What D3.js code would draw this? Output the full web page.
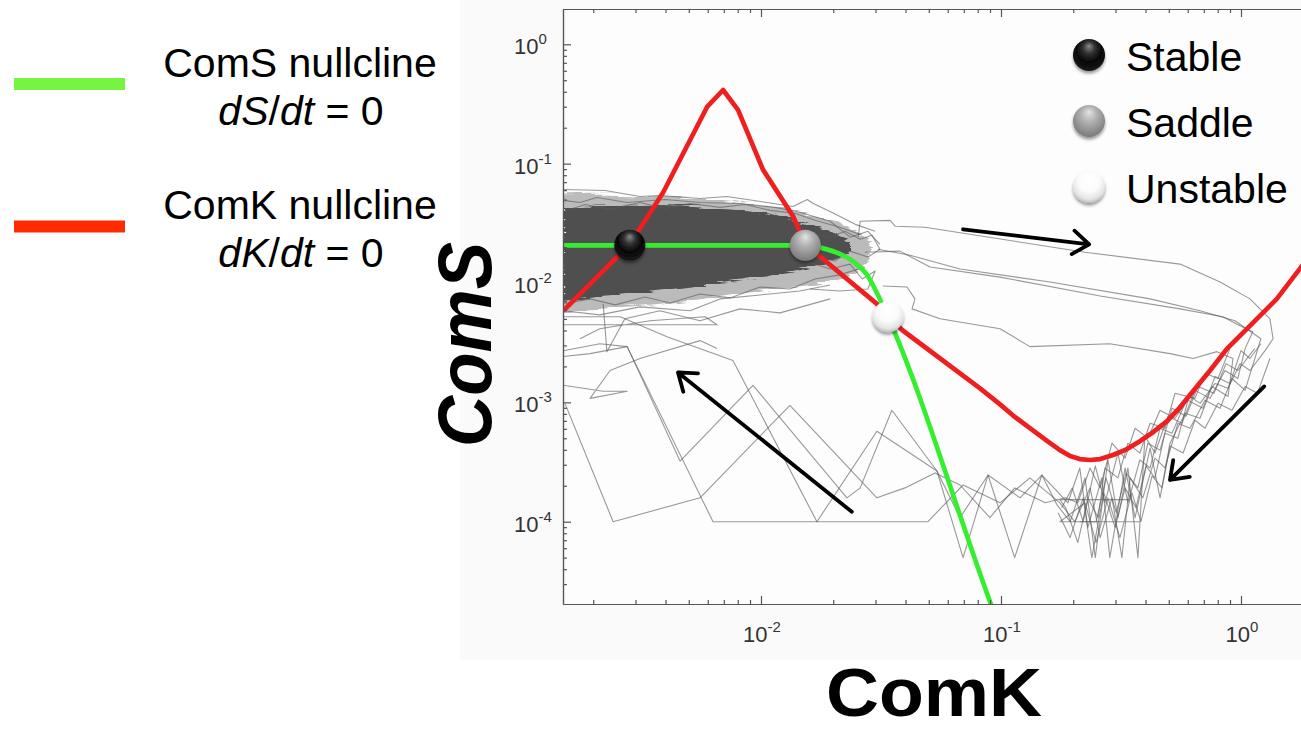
<!DOCTYPE html>
<html>
<head>
<meta charset="utf-8">
<script src="https://cdn.jsdelivr.net/npm/d3@7"></script>
<style>
  html, body { margin: 0; padding: 0; background: #fff; }
  svg { display: block; font-family: "Liberation Sans", Arial, Helvetica, sans-serif; }
</style>
</head>
<body>
<svg id="chart" width="1301" height="731"></svg>
<script>
// ---------------- data ----------------
// Axis ticks that carry a label, with their exponent text
const comKLabelTicks = [0.01, 0.1, 1];
const comKTickExponents = ["-2", "-1", "0"];
const comSLabelTicks = [1, 0.1, 0.01, 0.001, 0.0001];
const comSTickExponents = ["0", "-1", "-2", "-3", "-4"];

// Nullclines: [ComK, ComS]
const comSNullcline = [
  [1.50e-3, 0.0207], [1.32e-2, 0.0207], [1.53e-2, 0.0207], [1.80e-2, 0.0196],
  [2.13e-2, 0.0175], [2.47e-2, 0.0147], [2.79e-2, 0.0114], [3.07e-2, 7.94e-3],
  [3.38e-2, 5.21e-3], [8.99e-2, 2.15e-5], [9.91e-2, 1.26e-5]
];
const comKNullcline = [
  [1.50e-3, 5.85e-3], [2.84e-3, 0.0211], [3.91e-3, 0.0573], [5.96e-3, 0.2985],
  [6.95e-3, 0.414], [8.02e-3, 0.282], [1.019e-2, 0.0891], [1.36e-2, 0.0362],
  [1.53e-2, 0.0211], [3.04e-2, 6.68e-3], [3.38e-2, 5.21e-3], [3.91e-2, 3.98e-3],
  [8.18e-2, 1.31e-3], [9.91e-2, 9.62e-4], [0.112, 7.79e-4], [0.132, 6.07e-4],
  [0.156, 4.73e-4], [0.176, 3.98e-4], [0.194, 3.55e-4], [0.213, 3.35e-4],
  [0.235, 3.29e-4], [0.259, 3.35e-4], [0.293, 3.62e-4], [0.335, 4.06e-4],
  [0.379, 4.73e-4], [0.430, 5.62e-4], [0.492, 6.95e-4], [0.557, 9.09e-4],
  [0.631, 1.24e-3], [0.743, 1.85e-3], [0.875, 2.82e-3], [1.11, 4.55e-3],
  [1.41, 7.36e-3], [1.78, 0.0136], [2.35, 0.0271]
];

// Fixed points
const fixedPointNames = ["Stable", "Saddle", "Unstable"];
const fixedPointComK = [2.84e-3, 1.53e-2, 3.38e-2];
const fixedPointComS = [0.0207, 0.0207, 5.21e-3];

// Nullcline legend
const nullclineNames = ["ComS nullcline", "ComK nullcline"];
const nullclineVars = ["S", "K"];

// Dense cloud of trajectories around the stable state (band edges)
const cloudComK = [1.50e-3, 2.13e-3, 3.13e-3, 4.60e-3, 6.75e-3, 9.90e-3, 1.32e-2, 1.68e-2, 2.03e-2, 2.35e-2, 2.84e-2];
const cloudOuterHigh = [0.0541, 0.0552, 0.0541, 0.0521, 0.0501, 0.0455, 0.0414, 0.0369, 0.0329, 0.0293, 0.0230];
const cloudOuterLow = [5.85e-3, 6.07e-3, 6.43e-3, 6.95e-3, 7.64e-3, 8.58e-3, 9.26e-3, 9.62e-3, 0.0102, 0.0112, 0.0150];
const cloudCoreHigh = [0.0430, 0.0438, 0.0447, 0.0438, 0.0422, 0.0391, 0.0348, 0.0299, 0.0261, 0.0224];
const cloudCoreLow = [7.08e-3, 7.64e-3, 8.25e-3, 9.09e-3, 0.0100, 0.0110, 0.0124, 0.0139, 0.0156, 0.0178];

// Individual stochastic trajectories: [ComK, ComS]
const trajectoryA = [
  [2.54e-2, 0.0242], [2.59e-2, 0.0329], [3.45e-2, 0.0335], [3.62e-2, 0.0299], [4.82e-2, 0.0293],
  [0.224, 0.0181], [0.557, 0.0144], [0.818, 0.0102], [1.09, 7.36e-3], [1.32, 5.01e-3],
  [1.36, 3.41e-3], [1.26, 2.71e-3], [1.09, 1.85e-3], [0.991, 2.11e-3], [0.883, 1.31e-3],
  [0.780, 1.44e-3], [0.675, 9.81e-4], [0.613, 1.12e-3], [0.531, 7.36e-4], [0.460, 8.58e-4],
  [0.409, 5.01e-4], [0.362, 6.07e-4], [0.329, 3.41e-4], [0.290, 4.55e-4], [0.259, 1.92e-4],
  [0.235, 2.82e-4], [0.209, 1.44e-4], [0.185, 1.585e-4], [0.153, 1.44e-4], [0.114, 1.92e-4],
  [8.99e-2, 1.08e-4], [6.75e-2, 2.03e-4], [5.31e-2, 2.56e-4], [3.98e-2, 1.92e-4], [3.04e-2, 1.585e-4],
  [1.32e-2, 9.44e-4], [5.57e-3, 1.585e-4], [2.42e-3, 1e-4], [1.525e-3, 9.81e-4]
];
const trajectoryB = [
  [2.71e-2, 0.0181], [3.79e-2, 0.0185], [5.06e-2, 0.0136], [9.91e-2, 0.0112], [0.259, 7.79e-3],
  [0.557, 6.07e-3], [0.841, 5.21e-3], [0.991, 4.38e-3], [1.12, 3.91e-3], [1.04, 2.82e-3],
  [0.970, 1.585e-3], [0.858, 1.85e-3], [0.743, 1.08e-3], [0.643, 1.26e-3], [0.568, 6.68e-4],
  [0.496, 7.64e-4], [0.438, 3.76e-4], [0.398, 5.21e-4], [0.372, 5e-5], [0.338, 2.82e-4],
  [0.307, 1.08e-4], [0.279, 3.29e-4], [0.247, 5e-5], [0.224, 2.33e-4], [0.194, 1e-4],
  [0.171, 1.39e-4], [0.148, 2.46e-4], [0.114, 5e-5], [8.83e-2, 2.46e-4], [6.95e-2, 5e-5],
  [5.41e-2, 2.66e-4], [3.51e-2, 8.58e-4], [2.59e-2, 1.92e-4], [2.28e-2, 1.585e-4], [9.26e-3, 1.39e-3],
  [4.60e-3, 3.22e-4], [2.77e-3, 2.93e-3], [2.13e-3, 3.10e-3], [1.50e-3, 2.71e-3]
];
const trajectoryC = [
  [3.07e-2, 0.0192], [4.18e-2, 0.0171], [6.75e-2, 0.0131], [0.160, 0.0102], [0.418, 7.36e-3],
  [0.675, 5.85e-3], [0.944, 4.83e-3], [1.21, 3.41e-3], [1.04, 1.26e-3], [0.917, 1.585e-3],
  [0.818, 8.91e-4], [0.708, 1.04e-3], [0.613, 6.07e-4], [0.546, 6.68e-4], [0.482, 2.82e-4],
  [0.438, 3.41e-4], [0.390, 1.585e-4], [0.345, 2.33e-4], [0.319, 5e-5], [0.290, 1.585e-4],
  [0.259, 7.36e-5], [0.235, 1.92e-4], [0.203, 1e-4], [0.176, 1.44e-4], [0.132, 2.33e-4],
  [9.91e-2, 1.44e-4], [6.95e-2, 2.03e-4], [4.96e-2, 1e-4], [6.31e-3, 1e-4], [2.77e-3, 2.93e-3],
  [1.94e-3, 2.56e-3], [1.50e-3, 2.42e-3]
];
const trajectoryD = [
  [3.22e-2, 9.44e-3], [4.06e-2, 9.26e-3], [4.38e-2, 7.36e-3], [4.26e-2, 6.07e-3], [5.57e-2, 5.01e-3],
  [9.91e-2, 4.14e-3], [0.132, 2.93e-3], [0.284, 3.10e-3], [0.506, 2.56e-3], [0.631, 2.33e-3],
  [0.794, 2.66e-3], [0.926, 2.33e-3], [0.883, 1.12e-3], [0.758, 1.36e-3], [0.675, 7.36e-4],
  [0.585, 8.10e-4], [0.506, 4.55e-4], [0.460, 1.585e-4], [0.418, 4.14e-4], [0.362, 1.08e-4],
  [0.329, 2.82e-4], [0.284, 5e-5], [0.263, 2.33e-4], [0.230, 8.91e-5], [0.213, 2.82e-4],
  [0.190, 1.44e-4], [0.148, 2.46e-4], [0.120, 1.585e-4], [8.83e-2, 2.46e-4], [6.75e-2, 1.08e-4],
  [5.41e-2, 2.66e-4], [3.04e-2, 5.73e-4], [1.71e-2, 1e-4], [7.64e-3, 2.24e-3], [4.06e-3, 3.55e-3],
  [2.59e-3, 5.21e-3], [1.50e-3, 5.21e-3]
];
const trajectoryE = [
  [0.899, 2.82e-3], [0.802, 1.585e-3], [0.708, 1.75e-3], [0.643, 1.08e-3], [0.531, 1.19e-3],
  [0.482, 6.07e-4], [0.418, 6.68e-4], [0.379, 3.76e-4], [0.338, 4.55e-4], [0.307, 2.33e-4],
  [0.271, 2.82e-4], [0.254, 1.08e-4], [0.230, 1.585e-4], [0.209, 6.68e-5], [0.186, 1.31e-4],
  [0.176, 1.53e-4], [0.345, 1.53e-4]
];
const trajectoryF = [
  [1.32, 2.33e-3], [1.17, 1.19e-3], [1.04, 1.36e-3], [0.917, 8.58e-4], [0.802, 9.81e-4],
  [0.708, 6.07e-4], [0.643, 7.08e-4], [0.574, 3.76e-4], [0.506, 4.30e-4], [0.469, 1.92e-4],
  [0.426, 2.42e-4], [0.383, 1e-4], [0.351, 1.75e-4], [0.313, 7.36e-5], [0.279, 1.585e-4],
  [0.249, 6.68e-5], [0.224, 1.44e-4], [0.176, 1e-4], [0.379, 1e-4]
];
const trajectoryG = [
  [0.585, 9.81e-4], [0.516, 5.52e-4], [0.460, 6.07e-4], [0.418, 2.82e-4], [0.379, 3.29e-4],
  [0.338, 1.44e-4], [0.307, 3.76e-4], [0.271, 1.44e-4], [0.247, 2.93e-4], [0.220, 1e-4],
  [0.198, 1.92e-4], [0.179, 1.31e-4]
];
const trajectoryH = [
  [1.21, 3.10e-3], [1.09, 2.33e-3], [1.00, 2.71e-3], [0.899, 1.44e-3], [0.780, 1.65e-3],
  [0.694, 8.91e-4], [0.601, 1.04e-3], [0.546, 5.01e-4], [0.482, 5.52e-4], [0.438, 2.33e-4],
  [0.402, 2.93e-4], [0.365, 1.31e-4], [0.329, 1.92e-4], [0.299, 8.91e-5], [0.268, 1.75e-4],
  [0.239, 5e-5], [0.220, 1.585e-4], [0.194, 7.36e-5], [0.173, 1.19e-4]
];
const trajectoryI = [
  [1.14, 2.82e-3], [0.970, 1.85e-3], [0.866, 2.11e-3], [0.772, 1.19e-3], [0.662, 1.36e-3],
  [0.590, 7.64e-4], [0.516, 8.91e-4], [0.460, 3.98e-4], [0.409, 4.55e-4], [0.372, 1.92e-4],
  [0.332, 2.56e-4], [0.302, 1.19e-4], [0.274, 2.33e-4], [0.249, 1e-4], [0.213, 1e-4]
];
const fringe1 = [
  [1.50e-3, 0.0607], [2.24e-3, 0.0596], [3.13e-3, 0.0531], [3.79e-3, 0.0541], [5.57e-3, 0.0511],
  [7.21e-3, 0.0531], [1.059e-2, 0.0473], [1.36e-2, 0.0438], [1.56e-2, 0.0501], [1.65e-2, 0.0464],
  [1.94e-2, 0.0398], [2.47e-2, 0.0310], [2.99e-2, 0.0271]
];
const fringe2 = [
  [1.50e-3, 0.0492], [1.76e-3, 0.0473], [2.07e-3, 0.0521], [2.77e-3, 0.0473], [3.98e-3, 0.0501],
  [5.57e-3, 0.0473], [8.18e-3, 0.0464], [1.144e-2, 0.0430], [1.45e-2, 0.0391], [1.94e-2, 0.0329],
  [2.35e-2, 0.0242], [2.79e-2, 0.0271], [3.13e-2, 0.0211]
];
const fringe3 = [
  [1.45e-2, 0.0158], [1.94e-2, 0.0131], [2.35e-2, 0.0144], [2.64e-2, 0.0108], [2.99e-2, 0.0126],
  [2.79e-2, 8.91e-3], [2.13e-2, 8.58e-3], [1.60e-2, 8.91e-3]
];
const fringe4 = [
  [1.50e-3, 5.85e-3], [2.13e-3, 5.41e-3], [3.13e-3, 6.31e-3], [5.06e-3, 5.85e-3], [6.75e-3, 7.36e-3],
  [9.90e-3, 7.94e-3], [1.45e-2, 8.58e-3], [1.94e-2, 9.62e-3]
];
const fringe5 = [
  [1.50e-3, 4.47e-3], [3.13e-3, 4.47e-3], [6.56e-3, 4.47e-3], [5.85e-3, 5.21e-3], [3.45e-3, 4.83e-3],
  [2.13e-3, 4.14e-3], [1.76e-3, 3.41e-3]
];
const fringe6 = [
  [1.50e-3, 1.39e-3], [2.20e-3, 1.24e-3], [2.77e-3, 1.24e-3], [1.94e-3, 1.08e-3], [2.35e-3, 1.85e-3],
  [3.13e-3, 2.33e-3], [5.57e-3, 3.29e-3], [6.56e-3, 2.82e-3]
];
const fringe7 = [
  [2.20e-3, 6.68e-3], [2.28e-3, 2.66e-3], [2.71e-3, 5.01e-3], [3.79e-3, 5.85e-3], [5.57e-3, 4.83e-3],
  [8.18e-3, 6.07e-3], [1.20e-2, 5.62e-3], [1.94e-2, 7.36e-3]
];
const fringe8 = [
  [1.50e-3, 0.0398], [1.85e-3, 0.0455], [2.35e-3, 0.0414], [3.13e-3, 0.0473], [3.98e-3, 0.0422],
  [5.06e-3, 0.0464], [6.75e-3, 0.0430], [8.58e-3, 0.0455], [1.09e-2, 0.0406], [1.39e-2, 0.0383],
  [1.68e-2, 0.0335], [2.13e-2, 0.0293], [2.64e-2, 0.0251]
];
const fringe9 = [
  [1.50e-3, 6.68e-3], [1.94e-3, 7.36e-3], [2.47e-3, 6.56e-3], [3.29e-3, 7.64e-3], [4.18e-3, 6.81e-3],
  [5.57e-3, 8.10e-3], [7.43e-3, 7.50e-3], [9.90e-3, 9.26e-3], [1.32e-2, 8.91e-3], [1.68e-2, 0.0108],
  [2.13e-2, 0.0117], [2.71e-2, 0.0136]
];
const fringe10 = [
  [1.45e-2, 0.0271], [1.94e-2, 0.0242], [2.24e-2, 0.0271], [2.59e-2, 0.0233], [2.90e-2, 0.0251],
  [3.13e-2, 0.0192], [2.79e-2, 0.0165], [2.35e-2, 0.0185], [2.03e-2, 0.0153], [1.68e-2, 0.0165]
];
const trajectories = [trajectoryA, trajectoryB, trajectoryC, trajectoryD, trajectoryE, trajectoryF,
  trajectoryG, trajectoryH, trajectoryI, fringe1, fringe2, fringe3, fringe4, fringe5, fringe6, fringe7,
  fringe8, fringe9, fringe10];

// Flow direction arrows: tail and head as [ComK, ComS]
const arrowTails = [[0.0695, 0.0282], [0.0239, 1.21e-4], [1.25, 1.36e-3]];
const arrowHeads = [[0.233, 0.0211], [4.51e-3, 1.78e-3], [0.506, 2.24e-4]];

// ---------------- drawing ----------------
const svg = d3.select("#chart");
const defs = svg.append("defs");

// log scales: one decade of ComK spans 240 px, one decade of ComS ~119 px
const x = d3.scaleLog().domain([0.01, 1]).range([761, 1241]);
x.domain([x.invert(563), x.invert(1360)]).range([563, 1360]);
const y = d3.scaleLog().domain([1, 1e-4]).range([44.3, 521.7]);
y.domain([y.invert(604), y.invert(9)]).range([604, 9]);

const plotLeft = 563, plotTop = 9, plotBottom = 604, plotRight = 1360;

// faint panel behind the plot
svg.append("rect").attr("x", 460).attr("y", 0).attr("width", 841).attr("height", 660).attr("fill", "#fafafa");
svg.append("rect").attr("x", plotLeft).attr("y", plotTop).attr("width", plotRight - plotLeft)
  .attr("height", plotBottom - plotTop).attr("fill", "#fdfdfd");

defs.append("clipPath").attr("id", "plotClip").append("rect")
  .attr("x", plotLeft).attr("y", plotTop).attr("width", plotRight - plotLeft).attr("height", plotBottom - plotTop);

// streaky ragged edge for the dense cloud of overlapping runs
const streak = defs.append("filter").attr("id", "streaks").attr("x", "-5%").attr("y", "-20%").attr("width", "110%").attr("height", "140%");
streak.append("feTurbulence").attr("type", "fractalNoise").attr("baseFrequency", "0.02 0.35")
  .attr("numOctaves", 2).attr("seed", 7).attr("result", "noise");
streak.append("feDisplacementMap").attr("in", "SourceGraphic").attr("in2", "noise")
  .attr("scale", 10).attr("xChannelSelector", "R").attr("yChannelSelector", "G");

// sphere gradients
const ballStyles = [
  { id: "ballStable", stops: [[0, "#8a8a8a"], [0.3, "#333"], [0.65, "#050505"], [1, "#1a1a1a"]] },
  { id: "ballSaddle", stops: [[0, "#e4e4e4"], [0.4, "#b2b2b2"], [0.8, "#8c8c8c"], [1, "#7a7a7a"]] },
  { id: "ballUnstable", stops: [[0, "#ffffff"], [0.55, "#fbfbfb"], [0.85, "#e4e4e4"], [1, "#bcbcbc"]] }
];
ballStyles.forEach(b => {
  const g = defs.append("radialGradient").attr("id", b.id)
    .attr("cx", "50%").attr("cy", "38%").attr("r", "62%").attr("fx", "50%").attr("fy", "22%");
  b.stops.forEach(s => g.append("stop").attr("offset", s[0]).attr("stop-color", s[1]));
});
const shadow = defs.append("filter").attr("id", "ballShadow").attr("x", "-50%").attr("y", "-50%").attr("width", "200%").attr("height", "200%");
shadow.append("feDropShadow").attr("dx", 0).attr("dy", 2.5).attr("stdDeviation", 1.8)
  .attr("flood-color", "#000").attr("flood-opacity", 0.4);

const plot = svg.append("g").attr("clip-path", "url(#plotClip)");

// dense trajectory cloud
const band = (hi, lo) => d3.area()
  .x((d, i) => x(cloudComK[i]))
  .y0((d, i) => y(lo[i]))
  .y1((d, i) => y(hi[i]))
  .curve(d3.curveBasis);
const cloud = plot.append("g").attr("filter", "url(#streaks)");
cloud.append("path").datum(cloudOuterHigh)
  .attr("d", band(cloudOuterHigh, cloudOuterLow))
  .attr("fill", "#6a6a6a").attr("fill-opacity", 0.45);
cloud.append("path").datum(cloudCoreHigh)
  .attr("d", band(cloudCoreHigh, cloudCoreLow))
  .attr("fill", "#4f4f4f");

// individual trajectories
const line = d3.line().x(d => x(d[0])).y(d => y(d[1]));
plot.selectAll("path.traj").data(trajectories).join("path")
  .attr("class", "traj")
  .attr("d", line)
  .attr("fill", "none")
  .attr("stroke", "#5a5a5a")
  .attr("stroke-opacity", 0.62)
  .attr("stroke-width", 1.1)
  .attr("stroke-linejoin", "round");

// nullclines
const redLine = d3.line().x(d => x(d[0])).y(d => y(d[1]));
const greenLine = d3.line().x(d => x(d[0])).y(d => y(d[1])).curve(d3.curveMonotoneX);
plot.append("path").datum(comKNullcline).attr("d", redLine)
  .attr("fill", "none").attr("stroke", "#ee1f1f").attr("stroke-width", 4.7).attr("stroke-linejoin", "round");
plot.append("path").datum(comSNullcline).attr("d", greenLine)
  .attr("fill", "none").attr("stroke", "#36ee30").attr("stroke-width", 4.7).attr("stroke-linejoin", "round");

// axes (ticks point into the plot)
const allK = x.ticks();
const allS = y.ticks();
const isMajor = v => Math.abs(Math.log10(v) - Math.round(Math.log10(v))) < 1e-9;
function addAxis(axisFn, scale, values, size, transform) {
  const g = svg.append("g").attr("transform", transform)
    .call(axisFn(scale).tickValues(values).tickSizeInner(-size).tickSizeOuter(0).tickFormat(""));
  g.selectAll("path, line").attr("stroke", "#555").attr("stroke-width", 1.2);
  return g;
}
addAxis(d3.axisBottom, x, allK.filter(v => !isMajor(v)), 4, `translate(0,${plotBottom})`);
addAxis(d3.axisBottom, x, allK.filter(isMajor), 8, `translate(0,${plotBottom})`);
addAxis(d3.axisTop, x, allK.filter(v => !isMajor(v)), 4, `translate(0,${plotTop})`);
addAxis(d3.axisTop, x, allK.filter(isMajor), 8, `translate(0,${plotTop})`);
addAxis(d3.axisLeft, y, allS.filter(v => !isMajor(v)), 4, `translate(${plotLeft},0)`);
addAxis(d3.axisLeft, y, allS.filter(isMajor), 8, `translate(${plotLeft},0)`);

// tick labels as 10 with superscript exponent
const tickFont = 22, supFont = 15;
comKLabelTicks.forEach((v, i) => {
  const t = svg.append("text").attr("x", x(v) + 1).attr("y", 642).attr("text-anchor", "middle")
    .attr("font-size", tickFont).attr("fill", "#333");
  t.append("tspan").text("10");
  t.append("tspan").attr("dy", -10).attr("font-size", supFont).text(comKTickExponents[i]);
});
comSLabelTicks.forEach((v, i) => {
  const t = svg.append("text").attr("x", 514).attr("y", y(v) + 10).attr("text-anchor", "start")
    .attr("font-size", tickFont).attr("fill", "#333");
  t.append("tspan").text("10");
  t.append("tspan").attr("dy", -10).attr("font-size", supFont).text(comSTickExponents[i]);
});

// flow arrows
arrowTails.forEach((tail, i) => {
  const head = arrowHeads[i];
  const x0 = x(tail[0]), y0 = y(tail[1]), x1 = x(head[0]), y1 = y(head[1]);
  const len = Math.hypot(x1 - x0, y1 - y0), ux = (x1 - x0) / len, uy = (y1 - y0) / len;
  const arm = 20, ang = 36 * Math.PI / 180;
  const rot = a => [ux * Math.cos(a) - uy * Math.sin(a), ux * Math.sin(a) + uy * Math.cos(a)];
  const r1 = rot(ang), r2 = rot(-ang);
  svg.append("path")
    .attr("d", `M${x0},${y0}L${x1},${y1}M${x1 - arm * r1[0]},${y1 - arm * r1[1]}L${x1},${y1}L${x1 - arm * r2[0]},${y1 - arm * r2[1]}`)
    .attr("fill", "none").attr("stroke", "#000").attr("stroke-width", 3.8)
    .attr("stroke-linecap", "round").attr("stroke-linejoin", "round");
});

// fixed points
const ballIds = ["ballStable", "ballSaddle", "ballUnstable"];
fixedPointNames.forEach((name, i) => {
  svg.append("circle").attr("cx", x(fixedPointComK[i])).attr("cy", y(fixedPointComS[i])).attr("r", 15.5)
    .attr("fill", `url(#${ballIds[i]})`).attr("filter", "url(#ballShadow)");
});

// fixed-point legend
fixedPointNames.forEach((name, i) => {
  const cy = 55 + i * 66;
  svg.append("circle").attr("cx", 1089).attr("cy", cy).attr("r", 16)
    .attr("fill", `url(#${ballIds[i]})`).attr("filter", "url(#ballShadow)");
  svg.append("text").attr("x", 1126).attr("y", cy + 16).attr("font-size", 41).attr("fill", "#000").text(name);
});

// nullcline legend
const swatchColors = ["#76f442", "#ff2a00"];
nullclineNames.forEach((name, i) => {
  const top = 78 + i * 142.5;
  svg.append("rect").attr("x", 14).attr("y", top).attr("width", 111).attr("height", 12).attr("fill", swatchColors[i]);
  svg.append("text").attr("x", 300).attr("y", 77 + i * 141.5).attr("text-anchor", "middle")
    .attr("font-size", 41).attr("fill", "#000").text(name);
  const eq = svg.append("text").attr("x", 301).attr("y", 125 + i * 141.5).attr("text-anchor", "middle")
    .attr("font-size", 41).attr("fill", "#000");
  eq.append("tspan").attr("font-style", "italic").text("d" + nullclineVars[i]);
  eq.append("tspan").text("/");
  eq.append("tspan").attr("font-style", "italic").text("dt");
  eq.append("tspan").text(" = 0");
});

// axis titles
svg.append("text").attr("x", 934).attr("y", 716).attr("text-anchor", "middle")
  .attr("font-size", 68).attr("font-weight", "bold").attr("textLength", 216).attr("lengthAdjust", "spacingAndGlyphs")
  .text("ComK");
svg.append("text").attr("transform", "translate(491,344.5) rotate(-90)").attr("text-anchor", "middle")
  .attr("font-size", 76).attr("font-weight", "bold").attr("font-style", "italic")
  .attr("textLength", 205).attr("lengthAdjust", "spacingAndGlyphs")
  .text("ComS");
</script>
</body>
</html>
